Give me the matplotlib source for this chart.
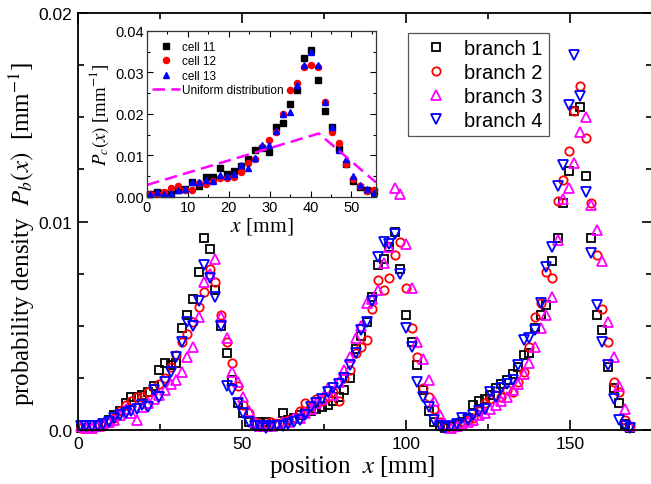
import numpy as np
import matplotlib
matplotlib.use("Agg")
import matplotlib.pyplot as plt

plt.rcParams['font.family'] = ['Liberation Sans', 'DejaVu Sans']
plt.rcParams['mathtext.fontset'] = 'stix'

# bin centres [mm]: 3 cells x 33 bins for the branches, 1 cell for the inset
bin_w = 1.71
pos = bin_w / 2 + bin_w * np.arange(99)
cell_pos = pos[:33]

branch1 = [0.0001, 0.0001, 0.0001, 0.0002, 0.0003, 0.0005, 0.0007, 0.0009, 0.0013, 0.0016, 0.0016,
           0.0017, 0.0018, 0.0021, 0.0029, 0.0032, 0.0031, 0.0032, 0.0049, 0.0055, 0.0063, 0.0076,
           0.0092, 0.0087, 0.0067, 0.0050, 0.0037, 0.0024, 0.0013, 0.0008, 0.0004, 0.0003, 0.0004,
           0.0004, 0.0002, 0.0003, 0.0008, 0.0005, 0.0006, 0.0007, 0.0008, 0.0009, 0.0010, 0.0011,
           0.0012, 0.0014, 0.0016, 0.0019, 0.0025, 0.0039, 0.0045, 0.0052, 0.0064, 0.0079, 0.0082,
           0.0088, 0.0095, 0.0077, 0.0055, 0.0042, 0.0031, 0.0019, 0.0009, 0.0004, 0.0002, 0.0001,
           0.0002, 0.0003, 0.0004, 0.0006, 0.0012, 0.0014, 0.0015, 0.0017, 0.0020, 0.0022, 0.0024,
           0.0027, 0.0030, 0.0036, 0.0037, 0.0049, 0.0055, 0.0060, 0.0081, 0.0092, 0.0109, 0.0124,
           0.0153, 0.0155, 0.0122, 0.0092, 0.0055, 0.0048, 0.0030, 0.0020, 0.0013, 0.0003, 0.0001]
branch2 = [0.0001, 0.0001, 0.0001, 0.0002, 0.0002, 0.0004, 0.0006, 0.0009, 0.0012, 0.0014, 0.0016,
           0.0016, 0.0018, 0.0020, 0.0022, 0.0025, 0.0030, 0.0036, 0.0042, 0.0046, 0.0052, 0.0059,
           0.0066, 0.0077, 0.0071, 0.0055, 0.0042, 0.0032, 0.0021, 0.0012, 0.0008, 0.0004, 0.0003,
           0.0003, 0.0004, 0.0003, 0.0004, 0.0005, 0.0006, 0.0009, 0.0013, 0.0011, 0.0015, 0.0014,
           0.0016, 0.0018, 0.0014, 0.0025, 0.0029, 0.0037, 0.0040, 0.0043, 0.0058, 0.0072, 0.0067,
           0.0073, 0.0084, 0.0090, 0.0068, 0.0049, 0.0035, 0.0020, 0.0016, 0.0010, 0.0004, 0.0002,
           0.0001, 0.0002, 0.0003, 0.0005, 0.0006, 0.0009, 0.0013, 0.0015, 0.0017, 0.0016, 0.0019,
           0.0018, 0.0023, 0.0028, 0.0040, 0.0054, 0.0061, 0.0076, 0.0073, 0.0110, 0.0120, 0.0134,
           0.0153, 0.0165, 0.0140, 0.0109, 0.0084, 0.0058, 0.0042, 0.0023, 0.0018, 0.0005, 0.0002]
branch3 = [0.0002, 0.0001, 0.0001, 0.0002, 0.0003, 0.0004, 0.0005, 0.0007, 0.0010, 0.0008, 0.0005,
           0.0011, 0.0013, 0.0015, 0.0017, 0.0019, 0.0022, 0.0024, 0.0028, 0.0035, 0.0040, 0.0054,
           0.0071, 0.0075, 0.0082, 0.0054, 0.0044, 0.0028, 0.0023, 0.0016, 0.0009, 0.0004, 0.0002,
           0.0002, 0.0002, 0.0003, 0.0004, 0.0004, 0.0006, 0.0006, 0.0008, 0.0010, 0.0013, 0.0015,
           0.0020, 0.0017, 0.0023, 0.0029, 0.0035, 0.0044, 0.0050, 0.0061, 0.0063, 0.0067, 0.0080,
           0.0088, 0.0116, 0.0113, 0.0089, 0.0068, 0.0042, 0.0034, 0.0024, 0.0014, 0.0007, 0.0003,
           0.0001, 0.0002, 0.0003, 0.0004, 0.0005, 0.0007, 0.0008, 0.0010, 0.0012, 0.0014, 0.0016,
           0.0019, 0.0022, 0.0027, 0.0032, 0.0040, 0.0049, 0.0055, 0.0064, 0.0091, 0.0111, 0.0116,
           0.0128, 0.0143, 0.0150, 0.0108, 0.0096, 0.0081, 0.0052, 0.0035, 0.0021, 0.0010, 0.0002]
branch4 = [0.0002, 0.0002, 0.0002, 0.0002, 0.0003, 0.0004, 0.0006, 0.0007, 0.0008, 0.0009, 0.0010,
           0.0012, 0.0011, 0.0019, 0.0016, 0.0023, 0.0028, 0.0035, 0.0042, 0.0052, 0.0050, 0.0062,
           0.0079, 0.0073, 0.0064, 0.0050, 0.0021, 0.0019, 0.0013, 0.0008, 0.0004, 0.0002, 0.0002,
           0.0001, 0.0002, 0.0002, 0.0002, 0.0003, 0.0004, 0.0005, 0.0007, 0.0011, 0.0013, 0.0015,
           0.0018, 0.0020, 0.0022, 0.0025, 0.0031, 0.0037, 0.0048, 0.0052, 0.0062, 0.0083, 0.0090,
           0.0089, 0.0094, 0.0075, 0.0049, 0.0040, 0.0023, 0.0016, 0.0011, 0.0005, 0.0002, 0.0001,
           0.0002, 0.0003, 0.0006, 0.0005, 0.0007, 0.0009, 0.0010, 0.0018, 0.0016, 0.0020, 0.0022,
           0.0024, 0.0031, 0.0043, 0.0044, 0.0048, 0.0061, 0.0078, 0.0088, 0.0117, 0.0127, 0.0156,
           0.0180, 0.0160, 0.0114, 0.0085, 0.0060, 0.0042, 0.0031, 0.0015, 0.0005, 0.0002, 0.0001]

cell11 = [0.0007, 0.0011, 0.0009, 0.0007, 0.0018, 0.0019, 0.0035, 0.0026, 0.0047, 0.0047, 0.0071,
          0.0055, 0.0063, 0.0075, 0.0092, 0.0112, 0.0118, 0.0108, 0.0168, 0.0178, 0.0224, 0.0258,
          0.0334, 0.0353, 0.0282, 0.0208, 0.0168, 0.0116, 0.0080, 0.0039, 0.0023, 0.0018, 0.0014]
cell12 = [0.0007, 0.0007, 0.0011, 0.0022, 0.0026, 0.0018, 0.0016, 0.0033, 0.0031, 0.0039, 0.0045,
          0.0046, 0.0047, 0.0059, 0.0081, 0.0092, 0.0120, 0.0137, 0.0156, 0.0200, 0.0258, 0.0274,
          0.0314, 0.0317, 0.0312, 0.0230, 0.0156, 0.0129, 0.0080, 0.0044, 0.0027, 0.0014, 0.0018]
cell13 = [0.0006, 0.0011, 0.0006, 0.0009, 0.0018, 0.0019, 0.0036, 0.0035, 0.0040, 0.0039, 0.0053,
          0.0050, 0.0055, 0.0078, 0.0071, 0.0093, 0.0125, 0.0126, 0.0160, 0.0200, 0.0204, 0.0270,
          0.0319, 0.0349, 0.0317, 0.0230, 0.0168, 0.0114, 0.0092, 0.0050, 0.0029, 0.0019, 0.0009]

uniform_x = [0, 42, 56]
uniform_y = [0.0029, 0.0153, 0.0035]

fig = plt.figure(figsize=(6.51, 4.85), dpi=100)
# right spine sits just past the image edge, as in the original
ax = fig.add_axes([0.1198, 0.1113, 0.8817, 0.8598])

styles = [("branch 1", branch1, "s", "black", 5.2),
          ("branch 2", branch2, "o", "red", 6.0),
          ("branch 3", branch3, "^", "magenta", 6.8),
          ("branch 4", branch4, "v", "blue", 6.8)]
for lab, vals, m, c, ms in styles:
    ax.plot(pos, vals, m, ms=ms, mfc="none", mec=c, mew=1.3, label=lab, clip_on=False)

ax.set_xlim(0, 175)
ax.set_ylim(0, 0.02)
ax.set_xticks([0, 50, 100, 150])
ax.set_xticks(np.arange(25, 175, 50), minor=True)
ax.set_yticks([0, 0.01, 0.02])
ax.set_yticklabels(["0.0", "0.01", "0.02"])
ax.set_yticks([0.0025, 0.005, 0.0075, 0.0125, 0.015, 0.0175], minor=True)
ax.tick_params(which="both", direction="in", top=True, right=True, width=1.2, labelsize=12.5, pad=4)
ax.tick_params(which="major", length=7)
ax.tick_params(which="minor", length=4)
for s in ax.spines.values():
    s.set_linewidth(1.3)

ax.set_xlabel("position  $x$ [mm]", family="Liberation Serif", fontsize=18)
ax.set_ylabel("probability density  $P_b(x)$  [mm$^{-1}$]", family="Liberation Serif", fontsize=18)
ax.xaxis.set_label_coords(0.477, -0.056)
ax.yaxis.set_label_coords(-0.072, 0.472)

leg = ax.legend(loc="upper left", bbox_to_anchor=(408 / 651, 1 - 34 / 485),
                bbox_transform=fig.transFigure, fontsize=14.5, numpoints=1,
                fancybox=False, framealpha=1, edgecolor="#555555", borderpad=0.3,
                handlelength=2.2, handletextpad=0.3, labelspacing=0.25, borderaxespad=0)
leg.get_frame().set_linewidth(0.9)

# inset
ins = fig.add_axes([0.2258, 0.5918, 0.3518, 0.3423])
ins.plot(cell_pos, cell11, "s", color="black", ms=4.0, label="cell 11", clip_on=False)
ins.plot(cell_pos, cell12, "o", color="red", ms=4.4, label="cell 12", clip_on=False)
ins.plot(cell_pos, cell13, "^", color="blue", ms=4.8, label="cell 13", clip_on=False)
ins.plot(uniform_x, uniform_y, color="magenta", lw=1.8, dashes=(5, 2.5), label="Uniform distribution")
ins.set_xlim(0, 56)
ins.set_ylim(0, 0.04)
ins.set_xticks(np.arange(0, 51, 10))
ins.set_xticks(np.arange(5, 56, 10), minor=True)
ins.set_yticks([0, 0.01, 0.02, 0.03, 0.04])
ins.set_yticklabels(["0.00", "0.01", "0.02", "0.03", "0.04"])
ins.set_yticks([0.005, 0.015, 0.025, 0.035], minor=True)
ins.tick_params(which="both", direction="in", top=True, right=True, width=0.8, labelsize=10.5, pad=2)
ins.tick_params(which="major", length=4)
ins.tick_params(which="minor", length=2.5)
for s in ins.spines.values():
    s.set_linewidth(0.9)
    s.set_color("#333333")
ins.set_xlabel("$x$ [mm]", family="Liberation Serif", fontsize=15.5, labelpad=1)
ins.set_ylabel("$P_c(x)$ [mm$^{-1}$]", family="Liberation Serif", fontsize=13.5, labelpad=3)
ins.legend(loc="upper left", bbox_to_anchor=(0.0, 0.97), fontsize=8.5, frameon=False,
           numpoints=1, handlelength=2.4, handletextpad=0.2, labelspacing=0.22,
           borderpad=0.2, borderaxespad=0.2)

fig.savefig("out.png", dpi=100)
